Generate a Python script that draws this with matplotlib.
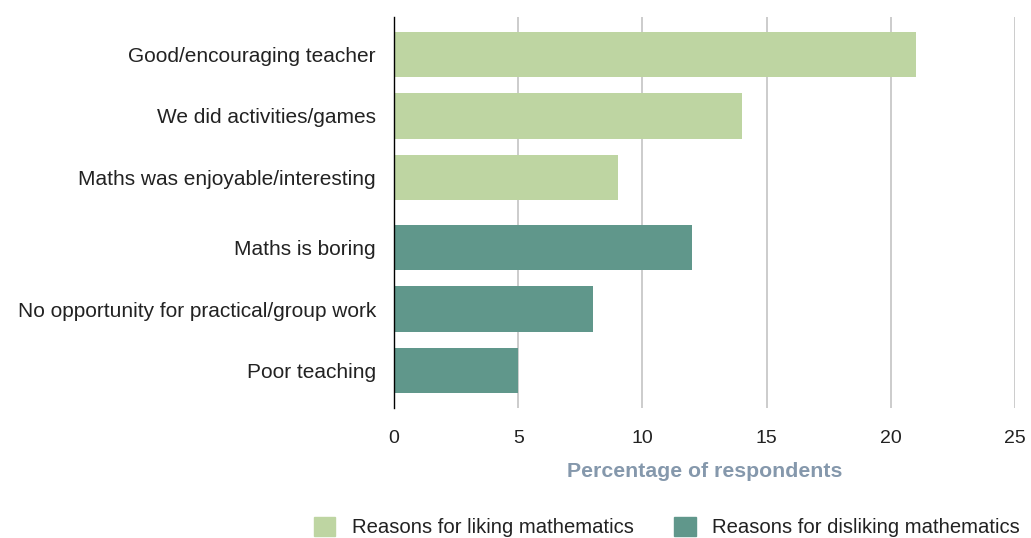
import matplotlib
matplotlib.use("Agg")
import matplotlib.pyplot as plt
from matplotlib.patches import Patch

categories = ["Good/encouraging teacher", "We did activities/games", "Maths was enjoyable/interesting",
              "Maths is boring", "No opportunity for practical/group work", "Poor teaching"]
values = [21, 14, 9, 12, 8, 5]
groups = ["like", "like", "like", "dislike", "dislike", "dislike"]
legend_labels = ["Reasons for liking mathematics", "Reasons for disliking mathematics"]
x_ticks = [0, 5, 10, 15, 20, 25]

colors = {"like": "#BED5A2", "dislike": "#60978B"}
plt.rcParams['font.family'] = ['Liberation Sans', 'DejaVu Sans']

fig = plt.figure(figsize=(10.31, 5.38), dpi=100)
ax = fig.add_axes([394/1031, 1-408/538, (1015-394)/1031, (408-17)/538])

pos = []
offset = 0.0
for i, g in enumerate(groups):
    if i > 0 and g != groups[i-1]:
        offset += 0.15
    pos.append(i + offset)

ax.barh(pos, values, height=0.74, color=[colors[g] for g in groups], zorder=2)
ax.set_ylim(pos[-1] + 0.615, pos[0] - 0.615)
ax.set_xlim(0, 25)
ax.set_xticks(x_ticks)
ax.set_xticklabels([str(t) for t in x_ticks])
ax.set_yticks(pos)
ax.set_yticklabels(categories)
ax.tick_params(axis='y', length=0, pad=13, labelsize=15, labelcolor="#222222")
ax.tick_params(axis='x', length=0, pad=15.5, labelsize=14, labelcolor="#222222")
ax.grid(axis='x', color="#C4C4C4", linewidth=1.2, zorder=0)
for s in ["top", "right", "bottom"]:
    ax.spines[s].set_visible(False)
ax.spines["left"].set_color("black")
ax.spines["left"].set_linewidth(1.0)
ax.spines["left"].set_zorder(3)
ax.set_xlabel("Percentage of respondents", fontsize=15.3, fontweight="bold", color="#8598AC", labelpad=11)

handles = [Patch(color=colors["like"]), Patch(color=colors["dislike"])]
fig.legend(handles, legend_labels, loc="center", bbox_to_anchor=(667/1031, 1-527/538), ncol=2,
           frameon=False, fontsize=14.6, handlelength=1.06, handleheight=1.1, handletextpad=0.82,
           columnspacing=2.0, labelcolor="#222222")

fig.savefig("out.png", dpi=100)
